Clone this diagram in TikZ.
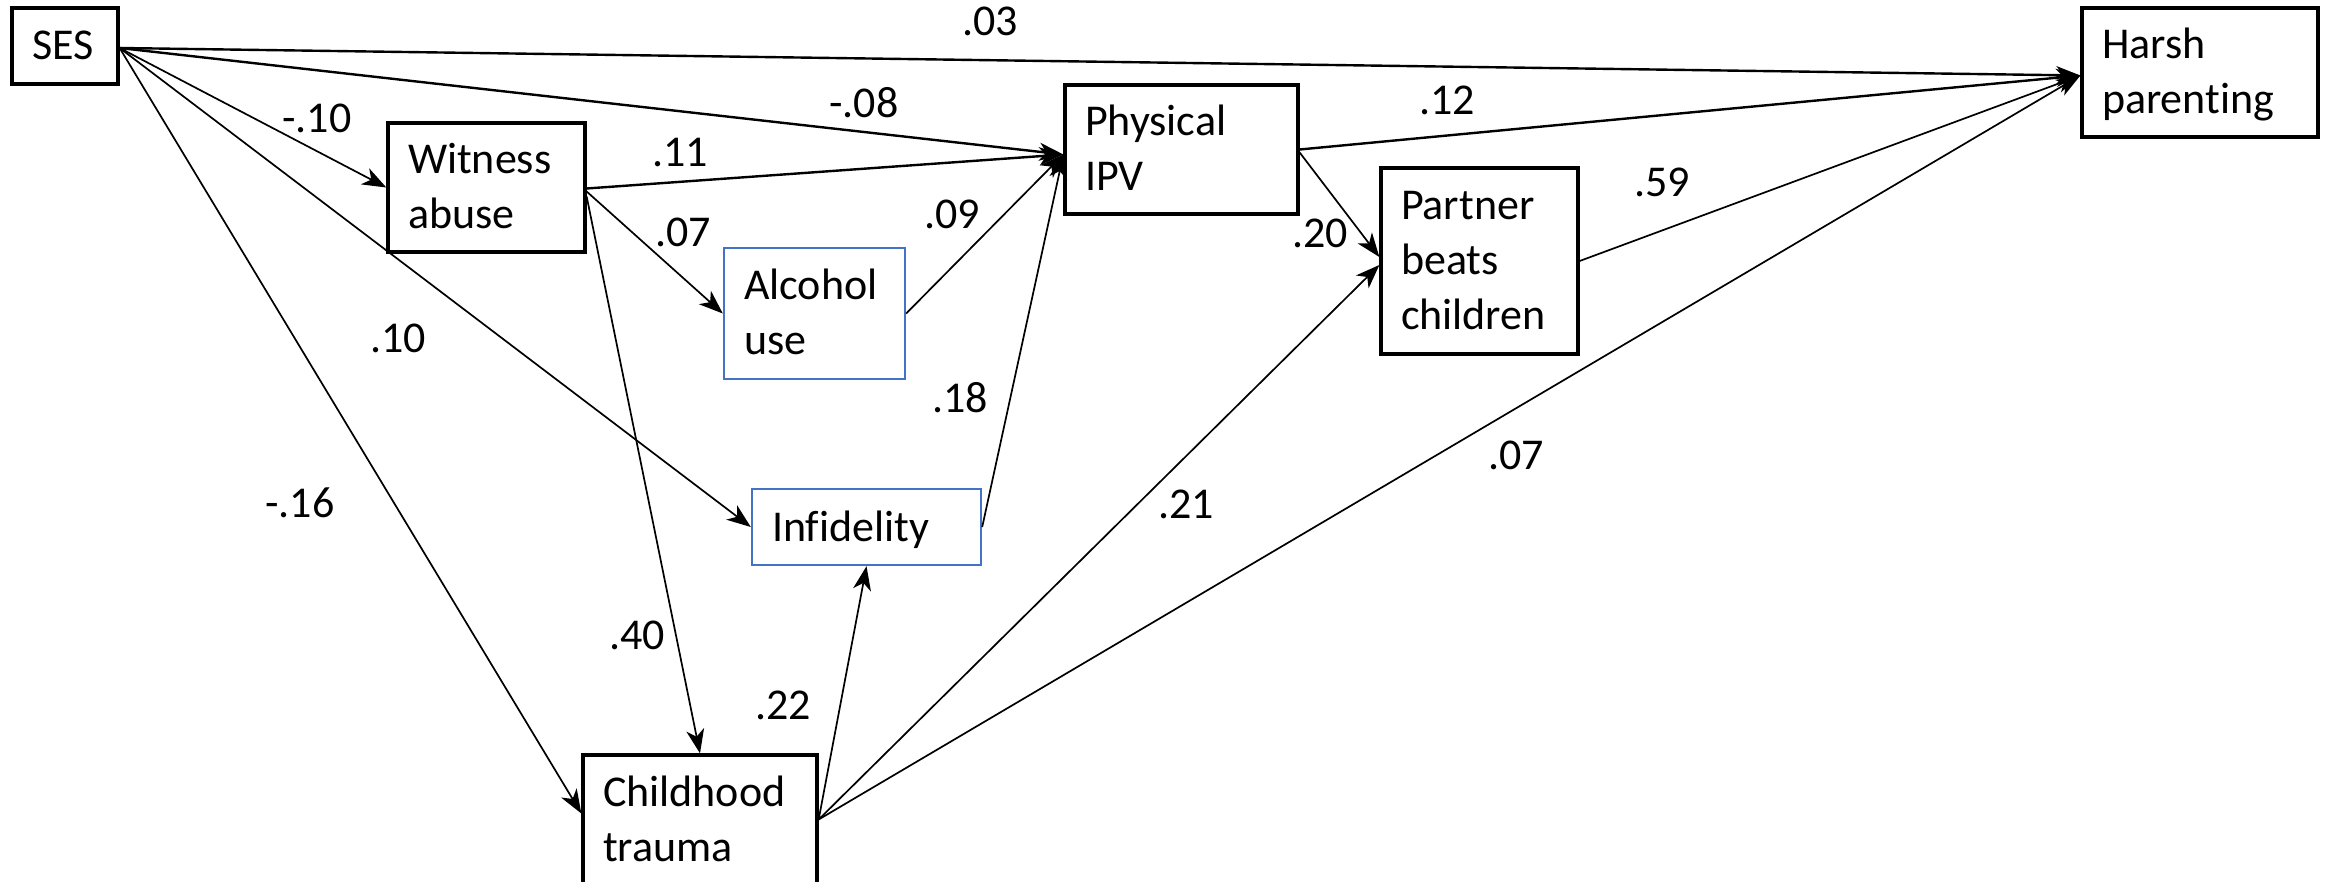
\documentclass[tikz,border=0pt]{standalone}
\usepackage{fontspec}
\setmainfont{Carlito}[Ligatures={NoCommon}]
\usetikzlibrary{arrows.meta}
\newcommand\Ls{\rule[-12pt]{0pt}{52pt}}
\definecolor{boxblue}{RGB}{68,114,196}
\tikzset{
  box/.style={draw=black, line width=3.3pt, rectangle, inner xsep=20pt, inner ysep=0pt,
    align=left, font=\fontsize{44}{55}\selectfont, anchor=center},
  bluebox/.style={box, draw=boxblue, line width=2.4pt},
  lbl/.style={font=\fontsize{44}{55}\selectfont, inner sep=0pt, anchor=center},
  arr/.style={line width=1.7pt, -{Stealth[length=24pt,width=18pt,inset=7pt]}},
  arrthick/.style={arr, line width=2.4pt}
}
\begin{document}
\begin{tikzpicture}[x=1pt,y=-1pt]
\fill[white] (0,0) rectangle (2333,882);
\useasboundingbox (0,0) rectangle (2333,882);
% nodes
\node[box, minimum width=106pt, minimum height=76pt, text width=66pt] (SES) at (65,46) {\Ls SES};
\node[box, minimum width=197pt, minimum height=129pt, text width=157pt] (WA) at (486.5,187.5) {\Ls Witness\\\Ls abuse};
\node[box, minimum width=233pt, minimum height=129pt, text width=193pt] (IPV) at (1181.5,149.5) {\Ls Physical\\\Ls IPV};
\node[bluebox, minimum width=181pt, minimum height=131pt, text width=141pt] (AU) at (814.5,313.5) {\Ls Alcohol\\\Ls use};
\node[bluebox, minimum width=229pt, minimum height=76pt, text width=189pt] (INF) at (866.5,527) {\Ls Inf\kern0pt idelity};
\node[box, minimum width=197pt, minimum height=186pt, text width=157pt] (PBC) at (1479.5,261) {\Ls Partner\\\Ls beats\\\Ls children};
\node[box, minimum width=236pt, minimum height=129pt, text width=196pt] (HP) at (2200,72.5) {\Ls Harsh\\\Ls parent\kern0pt ing};
\node[box, minimum width=234pt, minimum height=129pt, text width=194pt] (CT) at (700,819.5) {\Ls Childhood\\\Ls trauma};
% connectors
\draw[arrthick] ([yshift=-2pt]SES.east) -- ([yshift=-3pt]HP.west);
\draw[arrthick] ([yshift=-2pt]SES.east) -- ([yshift=-5pt]IPV.west);
\draw[arr] ([yshift=-2pt]SES.east) -- (WA.west);
\draw[arr] ([yshift=-2pt]SES.east) -- (INF.west);
\draw[arr] ([yshift=-2pt]SES.east) -- ([yshift=6pt]CT.west);
\draw[arrthick] ([yshift=-1pt]WA.east) -- ([yshift=-5pt]IPV.west);
\draw[arr] ([yshift=-4pt]WA.east) -- (AU.west);
\draw[arr] ([yshift=-9pt]WA.east) -- (CT.north);
\draw[arr] (AU.east) -- ([yshift=-5pt]IPV.west);
\draw[arr] (INF.east) -- ([yshift=-5pt]IPV.west);
\draw[arr] (CT.east) -- (INF.south);
\draw[arr] (CT.east) -- ([yshift=-4pt]PBC.west);
\draw[arr] (CT.east) -- ([yshift=-3pt]HP.west);
\draw[arrthick] (IPV.east) -- ([yshift=-3pt]HP.west);
\draw[arr] ([yshift=-3pt]IPV.east) -- ([yshift=4pt]PBC.west);
\draw[arr] (PBC.east) -- ([yshift=-3pt]HP.west);
% labels
\node[lbl] (l03) at (990,21) {.03};
\node[lbl] (l10a) at (317,118) {-.10};
\node[lbl] (l08) at (864,103) {-.08};
\node[lbl] (l11) at (680,153) {.11};
\node[lbl] (l07a) at (683,232) {.07};
\node[lbl] (l09) at (952,214) {.09};
\node[lbl] (l12) at (1447,100) {.12};
\node[lbl] (l59) at (1662,182) {.59};
\node[lbl] (l20) at (1320,233) {.20};
\node[lbl] (l10b) at (398,338) {.10};
\node[lbl] (l18) at (960,398) {.18};
\node[lbl] (l07b) at (1516,455) {.07};
\node[lbl] (l16) at (300,503) {-.16};
\node[lbl] (l21) at (1186,504) {.21};
\node[lbl] (l40) at (637,635) {.40};
\node[lbl] (l22) at (783,705) {.22};
\end{tikzpicture}
\end{document}
